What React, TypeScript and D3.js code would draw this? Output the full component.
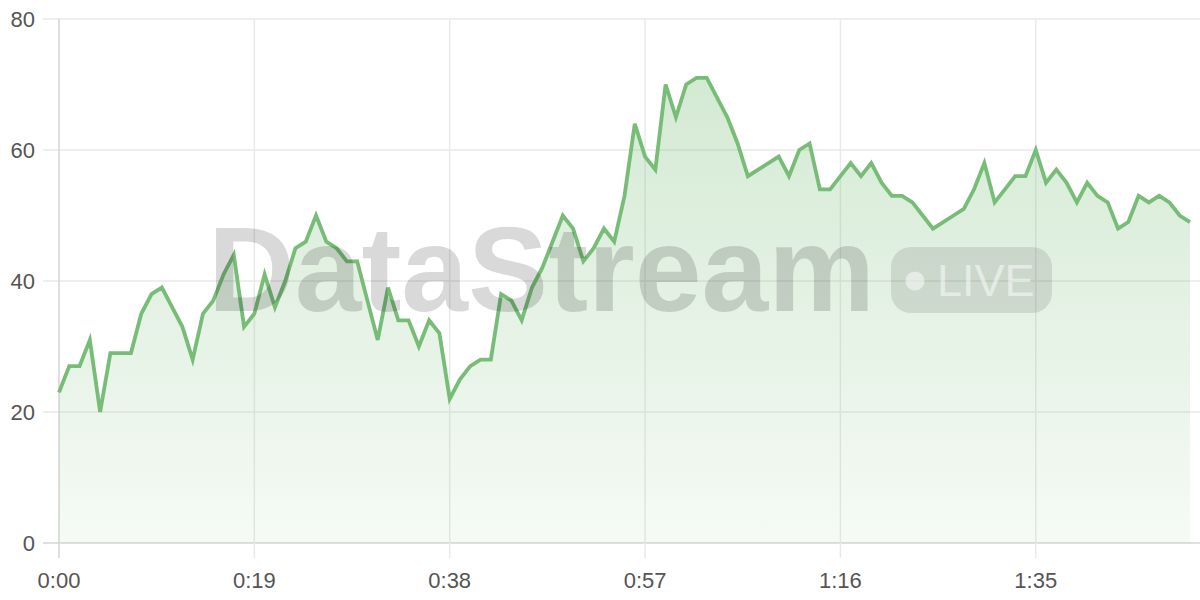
import * as d3 from "d3";
import React from "react";

// one reading per second, 0:00 .. 1:50
const values: number[] = [
  23, 27, 27, 31, 20, 29, 29, 29, 35, 38,
  39, 36, 33, 28, 35, 37, 41, 44, 33, 35,
  41, 36, 40, 45, 46, 50, 46, 45, 43, 43,
  37, 31, 39, 34, 34, 30, 34, 32, 22, 25,
  27, 28, 28, 38, 37, 34, 39, 42, 46, 50,
  48, 43, 45, 48, 46, 53, 64, 59, 57, 70,
  65, 70, 71, 71, 68, 65, 61, 56, 57, 58,
  59, 56, 60, 61, 54, 54, 56, 58, 56, 58,
  55, 53, 53, 52, 50, 48, 49, 50, 51, 54,
  58, 52, 54, 56, 56, 60, 55, 57, 55, 52,
  55, 53, 52, 48, 49, 53, 52, 53, 52, 50,
  49,
];
const seconds: number[] = values.map((_, i) => i);

const xTicks: number[] = [0, 19, 38, 57, 76, 95];
const yTicks: number[] = [0, 20, 40, 60, 80];

const watermark = "DataStream";
const badge = "LIVE";

const fmtTime = (s: number) => `${Math.floor(s / 60)}:${String(s % 60).padStart(2, "0")}`;

export default function App() {
  const width = 1200;
  const height = 600;
  const svgRef = React.useRef<SVGSVGElement | null>(null);

  React.useEffect(() => {
    const svg = d3.select(svgRef.current);
    svg.selectAll("*").remove();

    const margin = { top: 19, right: 10, bottom: 57, left: 59 };
    const x = d3
      .scaleLinear()
      .domain([0, 110])
      .range([margin.left, width - margin.right]);
    const y = d3
      .scaleLinear()
      .domain([0, 80])
      .range([height - margin.bottom, margin.top]);

    const defs = svg.append("defs");
    const grad = defs
      .append("linearGradient")
      .attr("id", "areaFill")
      .attr("x1", 0)
      .attr("x2", 0)
      .attr("gradientUnits", "userSpaceOnUse")
      .attr("y1", y(72))
      .attr("y2", y(0));
    grad.append("stop").attr("offset", "0%").attr("stop-color", "#76bb76").attr("stop-opacity", 0.32);
    grad.append("stop").attr("offset", "100%").attr("stop-color", "#76bb76").attr("stop-opacity", 0.07);

    // grid
    svg
      .append("g")
      .selectAll("line")
      .data(yTicks)
      .join("line")
      .attr("x1", margin.left - 16)
      .attr("x2", width)
      .attr("y1", (d) => y(d))
      .attr("y2", (d) => y(d))
      .attr("stroke", (d) => (d === 0 ? "#d4d4d4" : "#e9e9e9"))
      .attr("stroke-width", 1.5);

    svg
      .append("g")
      .selectAll("line")
      .data(xTicks)
      .join("line")
      .attr("x1", (d) => x(d))
      .attr("x2", (d) => x(d))
      .attr("y1", margin.top)
      .attr("y2", height - margin.bottom + 15)
      .attr("stroke", (d) => (d === 0 ? "#d4d4d4" : "#e9e9e9"))
      .attr("stroke-width", 1.5);

    // area + line
    const area = d3
      .area<number>()
      .x((_, i) => x(seconds[i]))
      .y0(y(0))
      .y1((d) => y(d));
    const line = d3
      .line<number>()
      .x((_, i) => x(seconds[i]))
      .y((d) => y(d));

    svg.append("path").attr("d", area(values) ?? null).attr("fill", "url(#areaFill)");
    svg
      .append("path")
      .attr("d", line(values) ?? null)
      .attr("fill", "none")
      .attr("stroke", "#77bd77")
      .attr("stroke-width", 3.8)
      .attr("stroke-linejoin", "miter");

    // axis labels
    svg
      .append("g")
      .selectAll("text")
      .data(yTicks)
      .join("text")
      .attr("x", 35)
      .attr("y", (d) => y(d))
      .attr("dy", "0.36em")
      .attr("text-anchor", "end")
      .attr("font-family", "Liberation Sans, Arial, sans-serif")
      .attr("font-size", 22)
      .attr("fill", "#555")
      .text((d) => String(d));

    svg
      .append("g")
      .selectAll("text")
      .data(xTicks)
      .join("text")
      .attr("x", (d) => x(d))
      .attr("y", 588)
      .attr("text-anchor", "middle")
      .attr("font-family", "Liberation Sans, Arial, sans-serif")
      .attr("font-size", 22)
      .attr("fill", "#555")
      .text((d) => fmtTime(d));

    // watermark
    const wm = svg.append("g").attr("pointer-events", "none");
    wm.append("text")
      .attr("x", 208)
      .attr("y", 311)
      .attr("font-family", "Liberation Sans, Arial, sans-serif")
      .attr("font-weight", 700)
      .attr("font-size", 120)
      .attr("fill", "rgba(0,0,0,0.15)")
      .text(watermark);
    wm.append("rect")
      .attr("x", 891)
      .attr("y", 247)
      .attr("width", 161)
      .attr("height", 66)
      .attr("rx", 20)
      .attr("fill", "rgba(0,0,0,0.1)");
    wm.append("circle")
      .attr("cx", 915)
      .attr("cy", 281)
      .attr("r", 9.5)
      .attr("fill", "rgba(255,255,255,0.5)");
    wm.append("text")
      .attr("x", 937)
      .attr("y", 296)
      .attr("font-family", "Liberation Sans, Arial, sans-serif")
      .attr("font-size", 45)
      .attr("fill", "rgba(255,255,255,0.5)")
      .text(badge);
  }, []);

  return (
    <svg
      ref={svgRef}
      width={width}
      height={height}
      viewBox={`0 0 ${width} ${height}`}
      style={{ position: "absolute", left: 0, top: 0, display: "block", background: "#fff" }}
    ></svg>
  );
}
